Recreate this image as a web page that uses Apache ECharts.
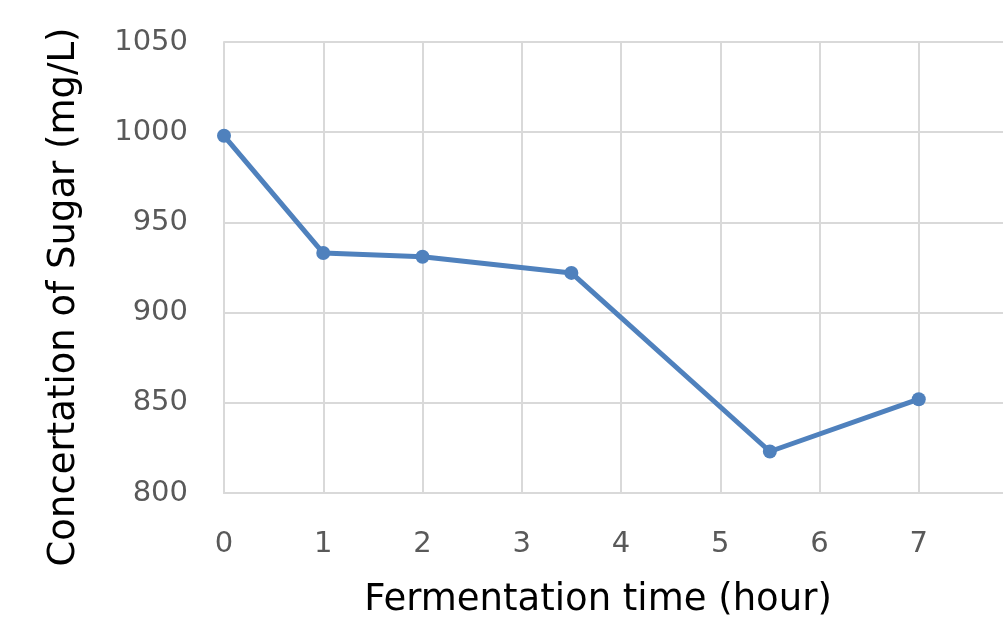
<!DOCTYPE html>
<html>
<head>
<meta charset="utf-8">
<script src="https://cdn.jsdelivr.net/npm/echarts@6/dist/echarts.min.js"></script>
<style>
html,body{margin:0;padding:0;background:#fff;}
#chart{width:1003px;height:619px;}
</style>
</head>
<body>
<div id="chart"></div>
<script>
var hours = [0, 1, 2, 3.5, 5.5, 7];
var sugar = [998, 933, 931, 922, 823, 852];
var xTitle = 'Fermentation time (hour)';
var yTitle = 'Concertation of Sugar (mg/L)';

var chart = echarts.init(document.getElementById('chart'), null, {renderer: 'canvas'});
var font = '"DejaVu Sans", Verdana, sans-serif';
chart.setOption({
  animation: false,
  backgroundColor: '#ffffff',
  grid: {left: 224, top: 42, width: 794, height: 451, containLabel: false, outerBoundsMode: 'none'},
  graphic: [
    {type: 'text', x: 598, y: 600, style: {text: xTitle, font: '37px "DejaVu Sans", Verdana, sans-serif',
      fill: '#000', align: 'center', verticalAlign: 'middle'}},
    {type: 'text', x: 64, y: 297, rotation: Math.PI / 2, style: {text: yTitle, font: '37px "DejaVu Sans", Verdana, sans-serif',
      fill: '#000', align: 'center', verticalAlign: 'middle'}}
  ],
  xAxis: {
    type: 'value', min: 0, max: 8, interval: 1,
    axisLine: {show: true, lineStyle: {color: '#d9d9d9', width: 2}},
    axisTick: {show: false},
    axisLabel: {fontSize: 29, color: '#595959', margin: 37, fontFamily: font,
      formatter: function(v){ return v <= 7 ? String(v) : ''; }},
    splitLine: {show: true, lineStyle: {color: '#d9d9d9', width: 2}}
  },
  yAxis: {
    type: 'value', min: 800, max: 1050, interval: 50,
    axisLine: {show: true, lineStyle: {color: '#d9d9d9', width: 2}},
    axisTick: {show: false},
    axisLabel: {fontSize: 29, color: '#595959', margin: 36, fontFamily: font,
      formatter: function(v){ return String(v); }},
    splitLine: {show: true, lineStyle: {color: '#d9d9d9', width: 2}}
  },
  series: [{
    type: 'line',
    data: hours.map(function(h, i){ return [h, sugar[i]]; }),
    symbol: 'circle', symbolSize: 14,
    lineStyle: {color: '#4f81bd', width: 5},
    itemStyle: {color: '#4f81bd'},
    clip: false
  }]
});
</script>
</body>
</html>
